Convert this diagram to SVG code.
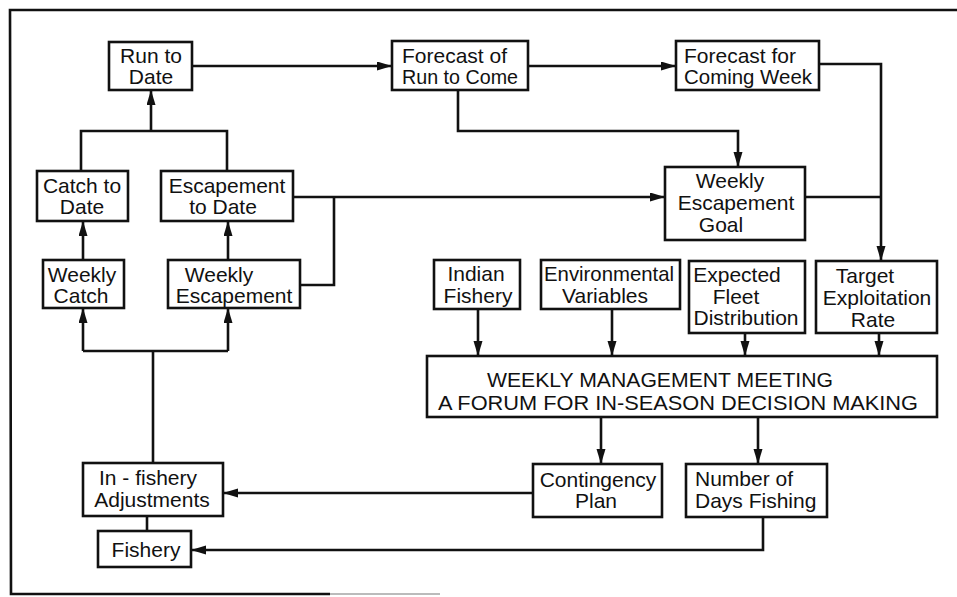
<svg xmlns="http://www.w3.org/2000/svg" width="957" height="597" viewBox="0 0 957 597">
<style>
.box{fill:#fff;stroke:#111;stroke-width:2.6}
.ln{fill:none;stroke:#111;stroke-width:2.6}
text{font-family:"Liberation Sans",Arial,sans-serif;font-size:21px;fill:#111}
.c{text-anchor:middle}
</style>
<defs>
<marker id="ah" markerUnits="userSpaceOnUse" markerWidth="16" markerHeight="10" refX="15" refY="4.5" orient="auto">
<path d="M0,0 L15,4.5 L0,9 z" fill="#111"/>
</marker>
</defs>
<rect width="957" height="597" fill="#fff"/>
<g id="frame">
<path class="ln" d="M957,10 L10,10 L11,594 L330,594"/>
<path d="M330,594 L440,594" stroke="#bbb" stroke-width="2" fill="none"/>
</g>
<g id="connectors">
<path class="ln" d="M192,66 L392,66" marker-end="url(#ah)"/>
<path class="ln" d="M528,66 L676,66" marker-end="url(#ah)"/>
<path class="ln" d="M819,64 L881,64 L881,261" marker-end="url(#ah)"/>
<path class="ln" d="M458,90 L458,131 L738,131 L738,167" marker-end="url(#ah)"/>
<path class="ln" d="M293,197 L665,197" marker-end="url(#ah)"/>
<path class="ln" d="M300,285 L334,285 L334,197"/>
<path class="ln" d="M805,197 L881,197"/>
<path class="ln" d="M81,171 L81,131 L227,131 L227,171"/>
<path class="ln" d="M151,131 L151,90" marker-end="url(#ah)"/>
<path class="ln" d="M83,260 L83,221" marker-end="url(#ah)"/>
<path class="ln" d="M228,260 L228,221" marker-end="url(#ah)"/>
<path class="ln" d="M83,351 L228,351"/>
<path class="ln" d="M83,351 L83,308" marker-end="url(#ah)"/>
<path class="ln" d="M228,351 L228,308" marker-end="url(#ah)"/>
<path class="ln" d="M153,463 L153,351"/>
<path class="ln" d="M147,516 L147,531"/>
<path class="ln" d="M478,309 L478,356" marker-end="url(#ah)"/>
<path class="ln" d="M612,309 L612,356" marker-end="url(#ah)"/>
<path class="ln" d="M745,333 L745,356" marker-end="url(#ah)"/>
<path class="ln" d="M879,333 L879,356" marker-end="url(#ah)"/>
<path class="ln" d="M601,417 L601,464" marker-end="url(#ah)"/>
<path class="ln" d="M758,417 L758,464" marker-end="url(#ah)"/>
<path class="ln" d="M533,493 L223,493" marker-end="url(#ah)"/>
<path class="ln" d="M763,517 L763,550 L191,550" marker-end="url(#ah)"/>
</g>
<g id="run-to-date"><rect class="box" x="109" y="42" width="83" height="48"/>
<text class="c" x="151" y="63">Run to</text><text class="c" x="151" y="84">Date</text></g>
<g id="forecast-run"><rect class="box" x="392" y="41" width="136" height="49"/>
<text x="402" y="63">Forecast of</text><text x="402" y="84" textLength="116" lengthAdjust="spacingAndGlyphs">Run to Come</text></g>
<g id="forecast-week"><rect class="box" x="676" y="41" width="143" height="49"/>
<text x="684" y="63">Forecast for</text><text x="684" y="84" textLength="128" lengthAdjust="spacingAndGlyphs">Coming Week</text></g>
<g id="catch-to-date"><rect class="box" x="37" y="171" width="91" height="50"/>
<text class="c" x="82" y="193">Catch to</text><text class="c" x="82" y="214">Date</text></g>
<g id="escapement-to-date"><rect class="box" x="161" y="171" width="132" height="50"/>
<text class="c" x="227" y="193">Escapement</text><text class="c" x="223" y="214">to Date</text></g>
<g id="weekly-goal"><rect class="box" x="665" y="167" width="140" height="73"/>
<text class="c" x="730" y="188">Weekly</text><text class="c" x="736" y="210">Escapement</text><text class="c" x="721" y="232">Goal</text></g>
<g id="weekly-catch"><rect class="box" x="43" y="260" width="81" height="48"/>
<text class="c" x="82" y="282">Weekly</text><text class="c" x="81" y="303">Catch</text></g>
<g id="weekly-escapement"><rect class="box" x="168" y="260" width="132" height="48"/>
<text class="c" x="219" y="282">Weekly</text><text class="c" x="234" y="303">Escapement</text></g>
<g id="indian-fishery"><rect class="box" x="434" y="260" width="86" height="49"/>
<text class="c" x="476" y="281">Indian</text><text class="c" x="478" y="303">Fishery</text></g>
<g id="environmental"><rect class="box" x="541" y="260" width="139" height="49"/>
<text class="c" x="609" y="281" textLength="130" lengthAdjust="spacingAndGlyphs">Environmental</text><text class="c" x="605" y="303">Variables</text></g>
<g id="fleet"><rect class="box" x="689" y="261" width="116" height="72"/>
<text class="c" x="737" y="282">Expected</text><text class="c" x="736" y="304">Fleet</text><text class="c" x="746" y="325">Distribution</text></g>
<g id="target"><rect class="box" x="816" y="261" width="121" height="72"/>
<text class="c" x="865" y="283">Target</text><text class="c" x="877" y="305">Exploitation</text><text class="c" x="873" y="327">Rate</text></g>
<g id="meeting"><rect class="box" x="427" y="356" width="510" height="61"/>
<text x="487" y="387" textLength="346" lengthAdjust="spacingAndGlyphs">WEEKLY MANAGEMENT MEETING</text>
<text x="438" y="410" textLength="480" lengthAdjust="spacingAndGlyphs">A FORUM FOR IN-SEASON DECISION MAKING</text></g>
<g id="contingency"><rect class="box" x="533" y="464" width="129" height="53"/>
<text class="c" x="598" y="487">Contingency</text><text class="c" x="596" y="508">Plan</text></g>
<g id="days-fishing"><rect class="box" x="686" y="464" width="141" height="53"/>
<text x="695" y="486">Number of</text><text x="695" y="508">Days Fishing</text></g>
<g id="adjustments"><rect class="box" x="83" y="463" width="140" height="53"/>
<text x="99" y="485">In - fishery</text><text class="c" x="152" y="507">Adjustments</text></g>
<g id="fishery"><rect class="box" x="98" y="531" width="93" height="36"/>
<text class="c" x="146" y="557">Fishery</text></g>
</svg>
